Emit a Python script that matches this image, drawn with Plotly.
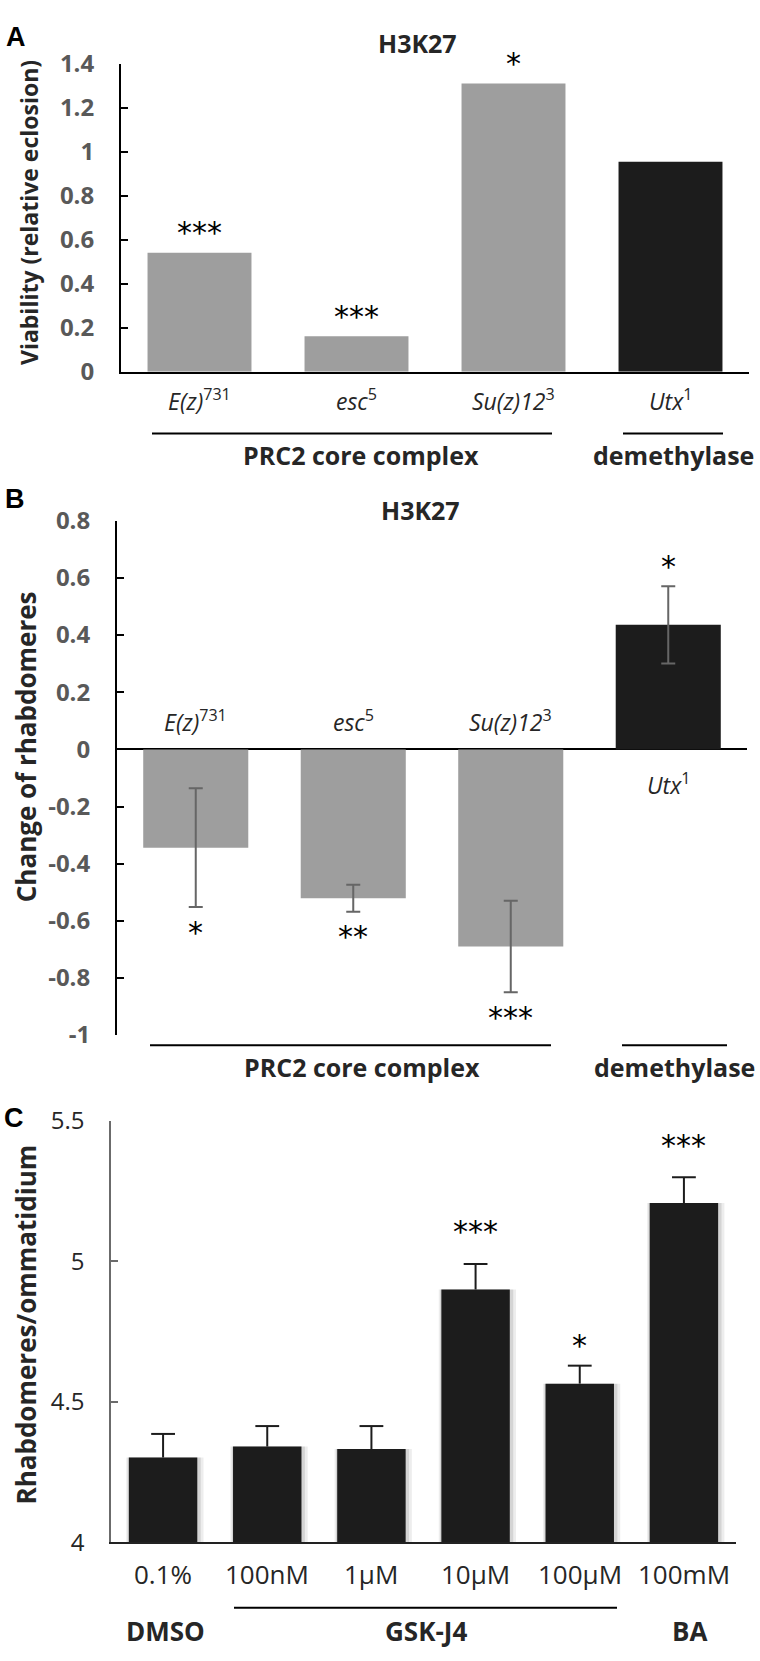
import plotly.graph_objects as go

W, H = 760, 1661
def X(px): return px / W
def Y(py): return 1 - py / H

FONT = "Open Sans"
STAR_FONT = "DejaVu Sans"
GRAY_BAR = "#9e9e9e"
BLACK_BAR = "#1c1c1c"

# ---------------- data ----------------
gene_labels = ["<i>E(z)</i><sup>731</sup>", "<i>esc</i><sup>5</sup>",
               "<i>Su(z)12</i><sup>3</sup>", "<i>Utx</i><sup>1</sup>"]
gene_groups = ["PRC2 core complex", "demethylase"]
gene_is_demethylase = [False, False, False, True]

a_viability = [0.541, 0.162, 1.31, 0.955]
a_stars = ["***", "***", "*", ""]

b_change = [-0.344, -0.521, -0.690, 0.436]
b_error = [0.208, 0.047, 0.160, 0.135]
b_stars = ["*", "**", "***", "*"]
b_ticks = [0.8, 0.6, 0.4, 0.2, 0, -0.2, -0.4, -0.6, -0.8, -1]
b_ticktext = ["0.8", "0.6", "0.4", "0.2", "0", "-0.2", "-0.4", "-0.6", "-0.8", "-1"]

c_doses = ["0.1%", "100nM", "1µM", "10µM", "100µM", "100mM"]
c_groups = ["DMSO", "GSK-J4", "BA"]
c_rhabdomeres = [4.301, 4.340, 4.331, 4.899, 4.564, 5.207]
c_error = [0.084, 0.073, 0.082, 0.091, 0.064, 0.092]
c_stars = ["", "", "", "***", "*", "***"]
c_ticks = [4, 4.5, 5, 5.5]

# ---------------- styles ----------------
bar_colors = [BLACK_BAR if d else GRAY_BAR for d in gene_is_demethylase]
c_star_shift = [0, 0, 0, 32, 20, 32]
CW = 0.657  # bar width, panel C (category units)

fig = go.Figure()

xa = list(range(len(a_viability)))
fig.add_trace(go.Bar(x=xa, y=a_viability, marker=dict(color=bar_colors, line=dict(width=0)),
                     width=0.662, xaxis="x", yaxis="y", showlegend=False, hoverinfo="skip"))

fig.add_trace(go.Bar(x=xa, y=b_change, marker=dict(color=bar_colors, line=dict(width=0)),
                     width=0.667, xaxis="x2", yaxis="y2", showlegend=False, hoverinfo="skip",
                     error_y=dict(type="data", array=b_error, color="#666666", thickness=2, width=7)))

xc = list(range(len(c_rhabdomeres)))
# soft drop shadow behind the panel C bars
for extra, left, alpha in [(0.085, 0.025, 0.07), (0.045, 0.012, 0.10)]:
    fig.add_trace(go.Bar(x=xc, y=c_rhabdomeres, width=CW + extra, offset=-CW / 2 - left,
                         marker=dict(color=f"rgba(0,0,0,{alpha})", line=dict(width=0)),
                         xaxis="x3", yaxis="y3", showlegend=False, hoverinfo="skip"))
# bars with upward-only error stems (no cap at the bar top)
fig.add_trace(go.Bar(x=xc, y=c_rhabdomeres, marker=dict(color=BLACK_BAR, line=dict(width=0)),
                     width=CW, xaxis="x3", yaxis="y3", showlegend=False, hoverinfo="skip",
                     error_y=dict(type="data", symmetric=False, array=c_error,
                                  arrayminus=[0] * len(c_error), color=BLACK_BAR,
                                  thickness=2, width=0)))
# caps at the top of each error stem
fig.add_trace(go.Scatter(x=xc, y=[v + e for v, e in zip(c_rhabdomeres, c_error)],
                         mode="markers", xaxis="x3", yaxis="y3", showlegend=False,
                         hoverinfo="skip",
                         marker=dict(symbol="line-ew", size=17,
                                     line=dict(width=2, color=BLACK_BAR))))

bold_gray = dict(family=FONT, size=24, color="#595959", weight="bold")

fig.update_layout(
    width=W, height=H, margin=dict(l=0, r=0, t=0, b=0),
    paper_bgcolor="white", plot_bgcolor="white", barmode="overlay",
    font=dict(family=FONT),
    xaxis=dict(domain=[X(121), X(749)], range=[-0.5, 3.5], anchor="y",
               showline=True, linecolor="black", linewidth=2, ticks="",
               showticklabels=False, showgrid=False, zeroline=False),
    yaxis=dict(domain=[Y(361), Y(46.7)], range=[0, 1.4], dtick=0.2, anchor="x",
               showline=True, linecolor="black", linewidth=2,
               ticks="inside", ticklen=7, tickwidth=2, tickcolor="black",
               tickfont=bold_gray, ticklabelstandoff=20,
               showgrid=False, zeroline=False),
    xaxis2=dict(domain=[X(117), X(747)], range=[-0.5, 3.5], anchor="y2",
                showline=False, ticks="", showticklabels=False, showgrid=False,
                zeroline=False),
    yaxis2=dict(domain=[Y(1037.7), Y(513)], range=[-1, 0.8], anchor="x2",
                tickvals=b_ticks, ticktext=b_ticktext,
                showline=True, linecolor="black", linewidth=2,
                ticks="inside", ticklen=7, tickwidth=2, tickcolor="black",
                tickfont=bold_gray, ticklabelstandoff=20,
                showgrid=False, zeroline=True, zerolinecolor="black", zerolinewidth=2),
    xaxis3=dict(domain=[X(111), X(736)], range=[-0.5, 5.5], anchor="y3",
                showline=True, linecolor="#222222", linewidth=2, ticks="",
                showticklabels=False, showgrid=False, zeroline=False),
    yaxis3=dict(domain=[Y(1555), Y(1125)], range=[4, 5.5], anchor="x3",
                tickvals=c_ticks, ticktext=[f"{t:g}" for t in c_ticks],
                showline=True, linecolor="#6b6b6b", linewidth=1.5,
                ticks="inside", ticklen=7, tickwidth=1.5, tickcolor="#6b6b6b",
                tickfont=dict(family=FONT, size=24, color="#262626"),
                ticklabelstandoff=20, showgrid=False, zeroline=False),
)

ann = []
shapes = []

def text(x, y, s, size, bold=False, color="black", xref="paper", yref="paper",
         xanchor="center", yanchor="middle", angle=0, family=FONT, yshift=0):
    ann.append(dict(x=x, y=y, xref=xref, yref=yref, text=s, showarrow=False,
                    xanchor=xanchor, yanchor=yanchor, textangle=angle, yshift=yshift,
                    font=dict(family=family, size=size, color=color,
                              weight="bold" if bold else "normal")))

def hline(x0, x1, y):
    shapes.append(dict(type="line", xref="paper", yref="paper", x0=X(x0), x1=X(x1),
                       y0=Y(y), y1=Y(y), line=dict(color="black", width=2)))

STAR = 30

# ---- Panel A ----
text(X(16), Y(19), "A", 27, bold=True, family="Liberation Sans")
text(X(417), Y(26), "H3K27", 25, bold=True, color="#262626")
text(X(29), Y(199), "Viability (relative eclosion)", 23, bold=True, angle=-90, color="#262626")
for i, lab in enumerate(gene_labels):
    text(i, Y(390), lab, 23, color="#262626", xref="x")
for i, s in enumerate(a_stars):
    if s:
        text(i, a_viability[i], s, STAR, xref="x", yref="y", family=STAR_FONT, yshift=20)
hline(152, 552, 424)
hline(623, 723, 424)
text(X(361), Y(446), gene_groups[0], 25, bold=True, color="#262626")
text(X(673), Y(446), gene_groups[1], 25, bold=True, color="#262626")

# ---- Panel B ----
text(X(15), Y(491), "B", 27, bold=True, family="Liberation Sans")
text(X(420), Y(502), "H3K27", 25, bold=True, color="#262626")
text(X(26), Y(744), "Change of rhabdomeres", 26, bold=True, angle=-90, color="#262626")
for i, lab in enumerate(gene_labels):
    ypx = 782 if b_change[i] > 0 else 717
    text(i, Y(ypx), lab, 23, color="#262626", xref="x2")
for i, s in enumerate(b_stars):
    if b_change[i] < 0:
        text(i, b_change[i] - b_error[i], s, STAR, xref="x2", yref="y2",
             family=STAR_FONT, yshift=-25)
    else:
        text(i, b_change[i] + b_error[i], s, STAR, xref="x2", yref="y2",
             family=STAR_FONT, yshift=20)
hline(150, 551, 1048)
hline(622, 727, 1048)
text(X(362), Y(1070), gene_groups[0], 25, bold=True, color="#262626")
text(X(674), Y(1070), gene_groups[1], 25, bold=True, color="#262626")

# ---- Panel C ----
text(X(14), Y(1122), "C", 27, bold=True, family="Liberation Sans")
text(X(26), Y(1333), "Rhabdomeres/ommatidium", 26, bold=True, angle=-90, color="#262626")
for i, lab in enumerate(c_doses):
    text(i, Y(1588), lab, 26, color="#262626", xref="x3")
for i, s in enumerate(c_stars):
    if s:
        text(i, c_rhabdomeres[i] + c_error[i], s, STAR, xref="x3", yref="y3",
             family=STAR_FONT, yshift=c_star_shift[i])
hline(234, 617, 1622)
text(X(165), Y(1646), c_groups[0], 26, bold=True, color="#262626")
text(X(426), Y(1646), c_groups[1], 26, bold=True, color="#262626")
text(X(689), Y(1646), c_groups[2], 26, bold=True, color="#262626")

fig.update_layout(annotations=ann, shapes=shapes)
fig.write_html("out.html", config={"displayModeBar": False},
               post_script="document.body.style.margin='0';document.body.style.padding='0';")
